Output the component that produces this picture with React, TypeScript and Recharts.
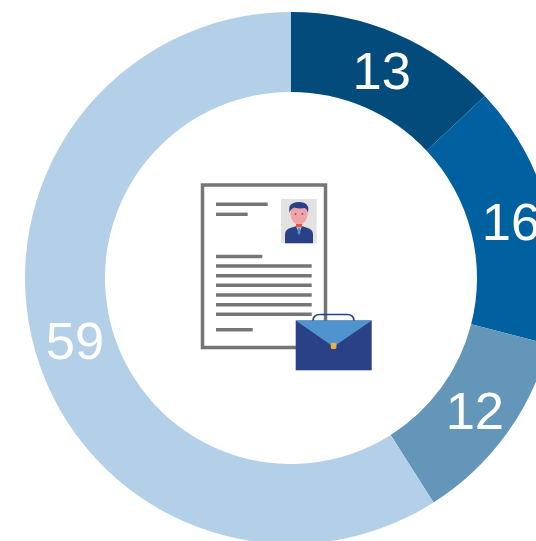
import { PieChart, Pie, Cell } from 'recharts';

const categories = ['A', 'B', 'C', 'D'];
const values = [13, 16, 12, 59];
const colors = ['#034b7b', '#0060a0', '#6496ba', '#b4d0e8'];

const chartData = categories.map((name, i) => ({ name, value: values[i] }));

const RAD = Math.PI / 180;

// value label sits in the middle of the ring
const renderLabel = (props: any) => {
  const { cx, cy, midAngle, innerRadius, outerRadius, value } = props;
  const r = (innerRadius + outerRadius) / 2;
  const x = cx + r * Math.cos(-midAngle * RAD) + 1;
  const y = cy + r * Math.sin(-midAngle * RAD) - 0.5;
  return (
    <text
      x={x}
      y={y}
      fill="#ffffff"
      textAnchor="middle"
      dominantBaseline="central"
      fontFamily="'Liberation Sans', Arial, sans-serif"
      fontSize={52.5}
    >
      {value}
    </text>
  );
};

const textLines = [
  [216, 204.3, 267.7],
  [216, 214.3, 247.7],
  [216, 256.5, 262.3],
  [216, 266, 311.7],
  [216, 275.7, 311.7],
  [216, 285.3, 311.7],
  [216, 295, 311.7],
  [216, 304.7, 311.7],
  [216, 314.3, 311.7],
  [216, 329.7, 252.7],
];

// resume and briefcase picture in the hole of the ring
function ResumeIcon() {
  return (
    <svg width={536} height={541} style={{ position: 'absolute', left: 0, top: 0 }}>
      <defs>
        <filter id="soft" x="-5%" y="-5%" width="110%" height="110%">
          <feGaussianBlur stdDeviation={0.4} />
        </filter>
      </defs>
      <g filter="url(#soft)">
        <rect x={202.5} y={185} width={123} height={162.5} fill="#fff" stroke="#757575" strokeWidth={3.5} />
        {textLines.map(([x1, y, x2], i) => (
          <line key={i} x1={x1} x2={x2} y1={y} y2={y} stroke="#757575" strokeWidth={3.4} />
        ))}
        <rect x={281} y={199} width={35.7} height={44.3} fill="#e2e2e2" />
        <path d="M285 243.300 v-9 q0 -5 6 -6.500 l8 -2.500 l8 2.500 q6 1.500 6 6.500 v9 z" fill="#2a4187" />
        <ellipse cx={299} cy={214} rx={8.500} ry={10.500} fill="#f4a3a3" />
        <path d="M296 226 l3 7 l3 -7 z" fill="#dfe8ef" />
        <path d="M298 228 h2 l0.500 5 l-1.500 2 l-1.500 -2 z" fill="#4f94ce" />
        <rect x={296} y={224} width={6} height={3.500} fill="#e0574f" />
        <path d="M289.500 213 q-1.500 -8 3 -9.500 q6 -2.500 12 -0.500 q5 2 3.500 10 q-1 -4 -3 -5 q-6 1 -11 -0.500 q-3.500 1.500 -4.500 5.500 z" fill="#2a4187" />
        <circle cx={295.500} cy={214} r={1} fill="#3f6fb0" />
        <circle cx={302.500} cy={214} r={1} fill="#3f6fb0" />
        <path d="M313 321 q0 -6.500 7 -6.500 h27 q7 0 7 6.500" fill="none" stroke="#2a4187" strokeWidth={1.700} />
        <rect x={295.700} y={320.500} width={76} height={49.800} fill="#2a4187" />
        <path d="M295.700 320.500 h76 L333.500 346.700 z" fill="#4f94cf" />
        <rect x={330.800} y={342.800} width={5.600} height={6.200} rx={1.500} fill="#e9b33a" />
      </g>
    </svg>
  );
}

export default function App() {
  return (
    <div style={{ position: 'absolute', left: 0, top: 0, width: 536, height: 541, overflow: 'hidden', background: '#fff' }}>
      <PieChart width={536} height={541} margin={{ top: 0, right: 0, bottom: 0, left: 0 }}>
        <Pie
          data={chartData}
          dataKey="value"
          cx={291}
          cy={278}
          innerRadius={186}
          outerRadius={266}
          startAngle={90}
          endAngle={-270}
          stroke="none"
          label={renderLabel}
          labelLine={false}
          isAnimationActive={false}
        >
          {chartData.map((entry, i) => (
            <Cell key={entry.name} fill={colors[i]} />
          ))}
        </Pie>
      </PieChart>
      <ResumeIcon />
    </div>
  );
}
